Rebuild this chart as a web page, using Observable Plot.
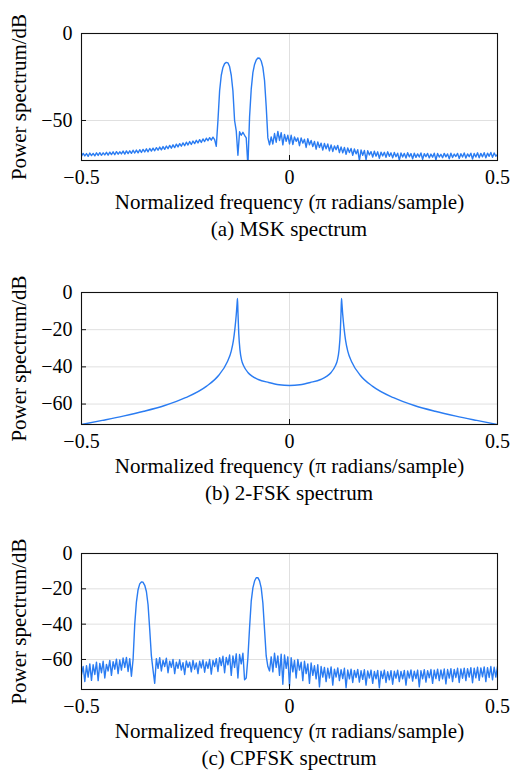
<!DOCTYPE html>
<html>
<head>
<meta charset="utf-8">
<script src="https://cdn.jsdelivr.net/npm/d3@7"></script>
<script src="https://cdn.jsdelivr.net/npm/@observablehq/plot@0.6"></script>
<style>
html, body { margin: 0; padding: 0; background: #fff; }
#fig { position: relative; width: 510px; height: 773px; font-family: "Liberation Serif", "Times New Roman", serif; color: #000; overflow: hidden; }
.panel { position: absolute; left: 0; width: 510px; }
.caption { position: absolute; left: 81px; width: 416px; text-align: center; font-size: 21px; line-height: 21px; white-space: nowrap; }
svg g[aria-label="x-axis label"], svg g[aria-label="y-axis label"] { font-size: 21px; }
</style>
</head>
<body>
<div id="fig"></div>
<script>
// ---------- data ----------
const xTicks = [-0.5, 0, 0.5];
const xTickLabels = ["\u22120.5", "0", "0.5"];
const xLabel = "Normalized frequency (\u03c0 radians/sample)";
const yLabel = "Power spectrum/dB";
const captions = ["(a) MSK spectrum", "(b) 2-FSK spectrum", "(c) CPFSK spectrum"];

// FFT bin grid for panels (a) and (c)
const binStart = -0.5;
const binStep = 0.004;

const mskTicks = [0, -50];
const mskTickLabels = ["0", "\u221250"];
const mskDb = [
  -70.5,-68.9,-70.4,-69.0,-70.6,-68.7,-70.2,-68.9,-70.3,-68.6,
  -70.1,-68.5,-70.0,-68.6,-69.8,-68.3,-69.9,-68.2,-69.6,-68.0,
  -69.7,-67.9,-69.4,-68.0,-69.2,-67.6,-69.3,-67.5,-69.0,-67.4,
  -68.9,-67.1,-68.7,-67.0,-68.6,-66.8,-68.4,-66.6,-68.1,-66.3,
  -68.0,-66.1,-67.6,-65.9,-67.4,-65.6,-67.1,-65.3,-66.9,-65.0,
  -66.6,-64.7,-66.2,-64.3,-65.9,-64.0,-65.6,-63.6,-65.2,-63.3,
  -64.8,-62.9,-64.5,-62.5,-64.1,-62.1,-63.8,-61.8,-63.3,-61.4,
  -62.9,-61.0,-62.6,-60.6,-62.1,-60.2,-61.6,-59.9,-61.3,-59.6,
  -61.0,-64.8,-50,-33,-24,-19.5,-17.3,-16.6,-16.9,-19,
  -24,-33,-50,-56,-70,-56.5,-58.5,-56.8,-58.5,-60,
  -76,-48,-32,-22.5,-17.8,-15.2,-14.1,-14.2,-15.8,-19.5,
  -27,-42,-60,-64,-59.5,-63.5,-57.5,-62.5,-56.3,-61.5,
  -57,-64,-58,-62,-58.5,-63.5,-58.5,-63.8,-59.5,-62.0,
  -60.0,-64.5,-60.0,-63.0,-60.8,-65.5,-60.5,-64.0,-61.5,-65.0,
  -62.0,-66.5,-62.3,-65.5,-63.0,-67.0,-63.2,-66.3,-63.5,-67.5,
  -64.0,-67.8,-64.6,-66.8,-64.3,-68.5,-65.2,-68.6,-65.5,-69.5,
  -65.8,-68.4,-66.1,-70.0,-66.4,-69.2,-66.8,-73.0,-67.0,-70.0,
  -67.2,-72.5,-67.4,-69.8,-67.9,-71.0,-67.7,-70.5,-68.0,-71.8,
  -68.2,-70.4,-68.3,-71.2,-68.0,-70.6,-68.6,-71.5,-68.4,-70.8,
  -68.8,-72.8,-68.7,-71.0,-68.9,-71.6,-68.5,-70.9,-69.0,-72.0,
  -68.8,-71.2,-69.2,-71.0,-68.7,-72.3,-69.1,-70.8,-68.9,-71.5,
  -69.3,-71.1,-68.8,-72.6,-69.0,-71.0,-69.4,-71.4,-68.9,-70.9,
  -69.2,-72.0,-68.8,-71.3,-69.3,-70.7,-68.9,-71.8,-69.1,-71.0,
  -68.7,-71.6,-69.2,-70.8,-68.8,-72.1,-69.0,-71.0,-68.6,-71.4,
  -68.9,-70.9,-68.5,-71.5,-68.8,-70.6,-68.4,-71.2,-68.7,-70.5,
  -69.5
];

const fskTicks = [0, -20, -40, -60];
const fskTickLabels = ["0", "\u221220", "\u221240", "\u221260"];
const fskFreq = [
  -0.5,-0.45,-0.4,-0.35,-0.3,-0.25,-0.2,-0.17,-0.15,-0.14,
  -0.135,-0.131,-0.128,-0.126,-0.125,-0.124,-0.122,-0.119,-0.115,-0.11,
  -0.1,-0.09,-0.075,-0.05,-0.025,0,0.025,0.05,0.075,0.09,
  0.1,0.11,0.115,0.119,0.122,0.124,0.125,0.126,0.128,0.131,
  0.135,0.14,0.15,0.17,0.2,0.25,0.3,0.35,0.4,0.45,0.5
];
const fskDb = [
  -71,-68.8,-66.5,-63.9,-60.8,-56.6,-50.5,-44.5,-37.5,-31.5,
  -26,-19,-12,-6,-3.2,-10,-22,-31,-36.5,-39.5,
  -43,-45,-46.8,-48.4,-49.6,-50,-49.6,-48.4,-46.8,-45,
  -43,-39.5,-36.5,-31,-22,-10,-3.2,-6,-12,-19,
  -26,-31.5,-37.5,-44.5,-50.5,-56.6,-60.8,-63.9,-66.5,-68.8,-71
];

const cpfskTicks = [0, -20, -40, -60];
const cpfskTickLabels = ["0", "\u221220", "\u221240", "\u221260"];
const cpfskDb = [
  -68.5,-64.0,-72.5,-63.5,-70.0,-62.5,-71.8,-63.0,-68.5,-61.5,
  -72.0,-62.2,-67.5,-61.0,-70.5,-62.8,-66.5,-60.5,-69.0,-61.2,
  -65.5,-59.8,-68.0,-60.3,-66.0,-59.2,-64.5,-58.8,-66.8,-59.5,
  -69.5,-60,-40,-27.5,-20.5,-17.2,-16.1,-16.3,-18.0,-21.5,
  -29,-43,-58,-66,-73.5,-59.5,-65.0,-59.0,-66.5,-60.5,
  -64.0,-59.3,-67.5,-61.0,-64.5,-60.0,-68.0,-61.5,-65.0,-60.2,
  -66.0,-61.8,-68.5,-60.8,-64.5,-61.5,-67.0,-60.5,-65.5,-62.0,
  -68.0,-61.0,-64.8,-60.3,-67.2,-61.4,-65.0,-60.0,-68.3,-60.6,
  -64.0,-59.5,-66.8,-59.0,-63.5,-58.2,-67.5,-58.8,-63.0,-57.5,
  -69.0,-58.0,-64.5,-56.8,-70.5,-57.2,-62.5,-56.5,-71.5,-70.5,
  -59,-42,-27,-19.5,-15.6,-13.7,-13.7,-15.5,-19.5,-28,
  -43,-58,-64,-66.5,-58.5,-67.0,-56.5,-64.5,-58.0,-69.0,
  -57.0,-74.0,-57.5,-65.0,-58.5,-75.0,-59.0,-67.0,-60.5,-70.5,
  -60.0,-66.0,-61.5,-72.0,-61.0,-68.0,-62.5,-73.5,-62.0,-69.0,
  -63.5,-71.0,-63.0,-75.5,-64.0,-70.0,-64.5,-72.5,-65.0,-70.5,
  -64.2,-74.5,-65.5,-70.0,-64.8,-72.0,-65.8,-70.8,-65.0,-76.0,
  -66.0,-71.0,-65.5,-73.0,-66.2,-70.2,-65.6,-72.8,-66.4,-71.2,
  -65.8,-74.5,-66.5,-70.5,-66.0,-73.5,-66.8,-71.0,-66.2,-76.0,
  -66.6,-70.8,-66.0,-73.0,-66.9,-71.5,-66.3,-74.0,-66.7,-70.6,
  -66.1,-72.5,-66.8,-71.0,-66.2,-74.5,-66.5,-70.5,-65.9,-72.2,
  -66.6,-70.8,-66.0,-75.5,-66.4,-71.0,-65.8,-72.8,-66.3,-70.4,
  -65.7,-73.5,-66.0,-70.8,-65.5,-72.0,-65.9,-71.0,-65.4,-73.8,
  -65.7,-70.5,-65.2,-72.5,-65.6,-70.2,-65.0,-73.0,-65.3,-70.6,
  -64.9,-72.0,-65.2,-70.0,-64.6,-73.2,-64.9,-70.4,-64.4,-71.8,
  -64.8,-69.8,-64.2,-72.5,-64.6,-70.2,-64.0,-71.5,-64.4,-70.0,
  -64.0
];

// ---------- drawing ----------
const lineColor = "#2a7cf2";
const gridColor = "#e0e0e0";
const frameColor = "#111";
const fontFamily = '"Liberation Serif", "Times New Roman", serif';

const binFreq = (arr) => arr.map((_, i) => binStart + i * binStep);

const panels = [
  {freq: binFreq(mskDb), db: mskDb, yDomain: [-73, 0], yTicks: mskTicks, yTickLabels: mskTickLabels, curve: "linear", top: 0, frameH: 127, caption: captions[0]},
  {freq: fskFreq, db: fskDb, yDomain: [-71, 0], yTicks: fskTicks, yTickLabels: fskTickLabels, curve: "monotone-x", top: 259, frameH: 132, caption: captions[1]},
  {freq: binFreq(cpfskDb), db: cpfskDb, yDomain: [-77, 0], yTicks: cpfskTicks, yTickLabels: cpfskTickLabels, curve: "linear", top: 520, frameH: 136, caption: captions[2]}
];

const fig = document.getElementById("fig");
const mTop = 33, mBottom = 55;

for (const p of panels) {
  const xLab = new Map(xTicks.map((t, i) => [t, xTickLabels[i]]));
  const yLab = new Map(p.yTicks.map((t, i) => [t, p.yTickLabels[i]]));
  const data = p.freq.map((f, i) => ({f, db: p.db[i]}));
  const chart = Plot.plot({
    width: 510,
    height: mTop + p.frameH + mBottom,
    marginLeft: 81,
    marginRight: 13,
    marginTop: mTop,
    marginBottom: mBottom,
    style: {fontFamily, fontSize: "20px", color: "#000", background: "transparent", overflow: "visible"},
    x: {domain: [-0.5, 0.5]},
    y: {domain: p.yDomain},
    marks: [
      Plot.gridX(xTicks, {stroke: gridColor, strokeOpacity: 1, strokeWidth: 1}),
      Plot.gridY(p.yTicks, {stroke: gridColor, strokeOpacity: 1, strokeWidth: 1}),
      Plot.line(data, {x: "f", y: "db", stroke: lineColor, strokeWidth: 1.4, curve: p.curve, clip: true}),
      Plot.frame({stroke: frameColor, strokeWidth: 1.1}),
      Plot.axisX(xTicks, {tickFormat: (d) => xLab.get(d), tickSize: -5, tickPadding: 14, stroke: frameColor,
        label: xLabel, labelAnchor: "center", labelOffset: 48, labelArrow: "none"}),
      Plot.axisY(p.yTicks, {tickFormat: (d) => yLab.get(d), tickSize: -5, tickPadding: 14, stroke: frameColor,
        label: yLabel, labelAnchor: "center", labelOffset: 70, labelArrow: "none"})
    ]
  });
  const holder = document.createElement("div");
  holder.className = "panel";
  holder.style.top = p.top + "px";
  holder.appendChild(chart);
  fig.appendChild(holder);

  const cap = document.createElement("div");
  cap.className = "caption";
  cap.style.top = (p.top + mTop + p.frameH + 77 - 17.6) + "px";
  cap.textContent = p.caption;
  fig.appendChild(cap);
}
</script>
</body>
</html>
